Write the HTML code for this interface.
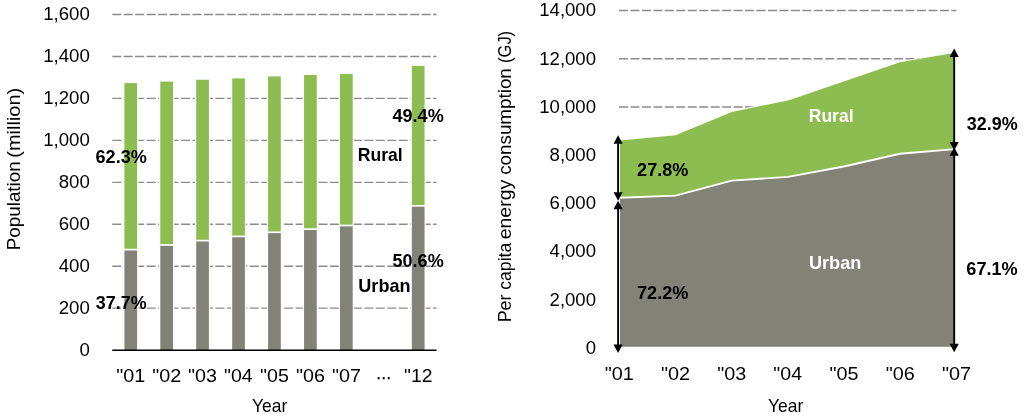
<!DOCTYPE html>
<html lang="en"><head><meta charset="utf-8"><title>Urban and rural population and energy consumption</title>
<style>html,body{margin:0;padding:0;background:#fff}body{width:1024px;height:416px;overflow:hidden}svg{display:block}text{font-family:"Liberation Sans",sans-serif;fill:#000}.b{font-weight:bold}.w{fill:#fff}.g{stroke:#8b8b8b;stroke-width:1.35;stroke-dasharray:9 2.46;fill:none}.ar{stroke:#000;stroke-width:1.9;fill:none}</style></head><body>
<svg width="1024" height="416" viewBox="0 0 1024 416">
<rect width="1024" height="416" fill="#fff"/>
<g id="left-chart">
<line class="g" x1="112.25" y1="308.15" x2="436.5" y2="308.15"/>
<line class="g" x1="112.25" y1="266.20" x2="436.5" y2="266.20"/>
<line class="g" x1="112.25" y1="224.25" x2="436.5" y2="224.25"/>
<line class="g" x1="112.25" y1="182.30" x2="436.5" y2="182.30"/>
<line class="g" x1="112.25" y1="140.35" x2="436.5" y2="140.35"/>
<line class="g" x1="112.25" y1="98.40" x2="436.5" y2="98.40"/>
<line class="g" x1="112.25" y1="56.45" x2="436.5" y2="56.45"/>
<line class="g" x1="112.25" y1="14.50" x2="436.5" y2="14.50"/>
<rect x="123.15" y="82.10" width="15.20" height="268.00" fill="#fff"/>
<rect x="124.40" y="83.10" width="12.70" height="165.65" fill="#8DBC50"/>
<rect x="124.40" y="250.45" width="12.70" height="99.65" fill="#838277"/>
<rect x="159.05" y="80.60" width="15.20" height="269.50" fill="#fff"/>
<rect x="160.30" y="81.60" width="12.70" height="162.55" fill="#8DBC50"/>
<rect x="160.30" y="245.85" width="12.70" height="104.25" fill="#838277"/>
<rect x="194.95" y="78.75" width="15.20" height="271.35" fill="#fff"/>
<rect x="196.20" y="79.75" width="12.70" height="160.00" fill="#8DBC50"/>
<rect x="196.20" y="241.45" width="12.70" height="108.65" fill="#838277"/>
<rect x="230.95" y="77.40" width="15.20" height="272.70" fill="#fff"/>
<rect x="232.20" y="78.40" width="12.70" height="157.15" fill="#8DBC50"/>
<rect x="232.20" y="237.25" width="12.70" height="112.85" fill="#838277"/>
<rect x="266.85" y="75.40" width="15.20" height="274.70" fill="#fff"/>
<rect x="268.10" y="76.40" width="12.70" height="155.00" fill="#8DBC50"/>
<rect x="268.10" y="233.10" width="12.70" height="117.00" fill="#838277"/>
<rect x="302.80" y="74.00" width="15.20" height="276.10" fill="#fff"/>
<rect x="304.05" y="75.00" width="12.70" height="153.25" fill="#8DBC50"/>
<rect x="304.05" y="229.95" width="12.70" height="120.15" fill="#838277"/>
<rect x="338.75" y="72.90" width="15.20" height="277.20" fill="#fff"/>
<rect x="340.00" y="73.90" width="12.70" height="150.75" fill="#8DBC50"/>
<rect x="340.00" y="226.35" width="12.70" height="123.75" fill="#838277"/>
<rect x="410.60" y="64.90" width="15.20" height="285.20" fill="#fff"/>
<rect x="411.85" y="65.90" width="12.70" height="139.05" fill="#8DBC50"/>
<rect x="411.85" y="206.65" width="12.70" height="143.45" fill="#838277"/>
<line x1="112.25" y1="350.25" x2="436.5" y2="350.25" stroke="#000" stroke-width="1.35"/>
<text x="79.46" y="355.85" font-size="18.0" textLength="10.37" lengthAdjust="spacingAndGlyphs">0</text>
<text x="58.71" y="313.90" font-size="18.0" textLength="31.11" lengthAdjust="spacingAndGlyphs">200</text>
<text x="58.71" y="271.95" font-size="18.0" textLength="31.11" lengthAdjust="spacingAndGlyphs">400</text>
<text x="58.71" y="230.00" font-size="18.0" textLength="31.11" lengthAdjust="spacingAndGlyphs">600</text>
<text x="58.71" y="188.05" font-size="18.0" textLength="31.11" lengthAdjust="spacingAndGlyphs">800</text>
<text x="43.18" y="146.10" font-size="18.0" textLength="46.65" lengthAdjust="spacingAndGlyphs">1,000</text>
<text x="43.18" y="104.15" font-size="18.0" textLength="46.65" lengthAdjust="spacingAndGlyphs">1,200</text>
<text x="43.18" y="62.20" font-size="18.0" textLength="46.65" lengthAdjust="spacingAndGlyphs">1,400</text>
<text x="43.18" y="20.25" font-size="18.0" textLength="46.65" lengthAdjust="spacingAndGlyphs">1,600</text>
<text x="375.8" y="378.9" font-size="15.9" stroke="#000" stroke-width="0.35">…</text>
</g>
<g id="right-chart">
<line class="g" x1="619.0" y1="299.96" x2="956.25" y2="299.96"/>
<line class="g" x1="619.0" y1="251.72" x2="956.25" y2="251.72"/>
<line class="g" x1="619.0" y1="203.48" x2="956.25" y2="203.48"/>
<line class="g" x1="619.0" y1="155.24" x2="956.25" y2="155.24"/>
<line class="g" x1="619.0" y1="107.00" x2="956.25" y2="107.00"/>
<line class="g" x1="619.0" y1="58.76" x2="956.25" y2="58.76"/>
<line class="g" x1="619.0" y1="10.52" x2="956.25" y2="10.52"/>
<polygon points="618.60,139.60 675.60,134.25 731.70,110.90 788.10,99.40 843.80,80.40 900.00,61.25 957.40,51.80 957.40,348.25 618.60,348.25" fill="#fff"/>
<polygon points="620.00,140.60 675.60,135.25 731.70,111.90 788.10,100.40 843.80,81.40 900.00,62.25 955.00,52.80 955.00,149.20 900.00,153.75 843.80,166.50 788.10,176.90 731.70,180.60 675.60,195.60 620.00,197.75" fill="#8DBC50"/>
<polygon points="620.00,197.75 675.60,195.60 731.70,180.60 788.10,176.90 843.80,166.50 900.00,153.75 955.00,149.20 955.00,346.75 620.00,346.75" fill="#838277"/>
<polyline points="620.00,197.75 675.60,195.60 731.70,180.60 788.10,176.90 843.80,166.50 900.00,153.75 955.00,149.20" fill="none" stroke="#fff" stroke-width="1.8"/>
<line class="ar" x1="618.1" y1="143.25" x2="618.1" y2="192.75"/>
<polygon points="618.10,135.25 613.55,143.75 622.65,143.75"/>
<polygon points="618.10,200.75 613.55,192.25 622.65,192.25"/>
<line class="ar" x1="618.1" y1="208.75" x2="618.1" y2="345.10"/>
<polygon points="618.10,200.75 613.55,209.25 622.65,209.25"/>
<polygon points="618.10,353.10 613.55,344.60 622.65,344.60"/>
<line class="ar" x1="954.2" y1="56.50" x2="954.2" y2="142.60"/>
<polygon points="954.20,48.50 949.65,57.00 958.75,57.00"/>
<polygon points="954.20,150.60 949.65,142.10 958.75,142.10"/>
<line class="ar" x1="954.2" y1="155.30" x2="954.2" y2="344.20"/>
<polygon points="954.20,147.30 949.65,155.80 958.75,155.80"/>
<polygon points="954.20,352.20 949.65,343.70 958.75,343.70"/>
<text x="585.70" y="353.95" font-size="18.0" textLength="10.33" lengthAdjust="spacingAndGlyphs">0</text>
<text x="549.57" y="305.71" font-size="18.0" textLength="46.46" lengthAdjust="spacingAndGlyphs">2,000</text>
<text x="549.57" y="257.47" font-size="18.0" textLength="46.46" lengthAdjust="spacingAndGlyphs">4,000</text>
<text x="549.57" y="209.23" font-size="18.0" textLength="46.46" lengthAdjust="spacingAndGlyphs">6,000</text>
<text x="549.57" y="160.99" font-size="18.0" textLength="46.46" lengthAdjust="spacingAndGlyphs">8,000</text>
<text x="539.24" y="112.75" font-size="18.0" textLength="56.79" lengthAdjust="spacingAndGlyphs">10,000</text>
<text x="539.24" y="64.51" font-size="18.0" textLength="56.79" lengthAdjust="spacingAndGlyphs">12,000</text>
<text x="539.24" y="16.27" font-size="18.0" textLength="56.79" lengthAdjust="spacingAndGlyphs">14,000</text>
</g>
<g id="labels">
<text x="95.59" y="162.75" class="b" font-size="17.7" textLength="51.14" lengthAdjust="spacingAndGlyphs">62.3%</text>
<text x="95.84" y="308.50" class="b" font-size="17.7" textLength="50.73" lengthAdjust="spacingAndGlyphs">37.7%</text>
<text x="392.48" y="121.50" class="b" font-size="17.7" textLength="51.25" lengthAdjust="spacingAndGlyphs">49.4%</text>
<text x="392.54" y="266.90" class="b" font-size="17.7" textLength="51.18" lengthAdjust="spacingAndGlyphs">50.6%</text>
<text x="357.82" y="160.60" class="b" font-size="18.5" textLength="44.92" lengthAdjust="spacingAndGlyphs">Rural</text>
<text x="358.31" y="291.50" class="b" font-size="18.5" textLength="52.21" lengthAdjust="spacingAndGlyphs">Urban</text>
<text x="637.12" y="175.60" class="b" font-size="17.7" textLength="51.25" lengthAdjust="spacingAndGlyphs">27.8%</text>
<text x="636.97" y="299.00" class="b" font-size="17.7" textLength="51.41" lengthAdjust="spacingAndGlyphs">72.2%</text>
<text x="966.84" y="129.75" class="b" font-size="17.7" textLength="50.89" lengthAdjust="spacingAndGlyphs">32.9%</text>
<text x="966.34" y="275.00" class="b" font-size="17.7" textLength="51.39" lengthAdjust="spacingAndGlyphs">67.1%</text>
<text x="808.83" y="121.50" class="b w" font-size="18.5" textLength="44.66" lengthAdjust="spacingAndGlyphs">Rural</text>
<text x="808.91" y="269.40" class="b w" font-size="18.5" textLength="52.47" lengthAdjust="spacingAndGlyphs">Urban</text>
<text x="252.02" y="411.60" font-size="18.5" textLength="35.27" lengthAdjust="spacingAndGlyphs">Year</text>
<text x="768.02" y="411.60" font-size="18.5" textLength="35.17" lengthAdjust="spacingAndGlyphs">Year</text>
<text x="116.31" y="382.25" font-size="18.0" textLength="29.00" lengthAdjust="spacingAndGlyphs">&quot;01</text>
<text x="152.21" y="382.25" font-size="18.0" textLength="29.04" lengthAdjust="spacingAndGlyphs">&quot;02</text>
<text x="188.11" y="382.25" font-size="18.0" textLength="28.90" lengthAdjust="spacingAndGlyphs">&quot;03</text>
<text x="224.12" y="382.25" font-size="18.0" textLength="28.60" lengthAdjust="spacingAndGlyphs">&quot;04</text>
<text x="260.01" y="382.25" font-size="18.0" textLength="28.86" lengthAdjust="spacingAndGlyphs">&quot;05</text>
<text x="295.96" y="382.25" font-size="18.0" textLength="28.90" lengthAdjust="spacingAndGlyphs">&quot;06</text>
<text x="331.91" y="382.25" font-size="18.0" textLength="29.04" lengthAdjust="spacingAndGlyphs">&quot;07</text>
<text x="404.08" y="382.25" font-size="18.0" textLength="28.39" lengthAdjust="spacingAndGlyphs">&quot;12</text>
<text x="604.76" y="380.00" font-size="18.0" textLength="29.11" lengthAdjust="spacingAndGlyphs">&quot;01</text>
<text x="660.96" y="380.00" font-size="18.0" textLength="29.14" lengthAdjust="spacingAndGlyphs">&quot;02</text>
<text x="717.16" y="380.00" font-size="18.0" textLength="29.01" lengthAdjust="spacingAndGlyphs">&quot;03</text>
<text x="773.37" y="380.00" font-size="18.0" textLength="28.70" lengthAdjust="spacingAndGlyphs">&quot;04</text>
<text x="829.56" y="380.00" font-size="18.0" textLength="28.97" lengthAdjust="spacingAndGlyphs">&quot;05</text>
<text x="885.76" y="380.00" font-size="18.0" textLength="29.01" lengthAdjust="spacingAndGlyphs">&quot;06</text>
<text x="941.96" y="380.00" font-size="18.0" textLength="29.14" lengthAdjust="spacingAndGlyphs">&quot;07</text>
<text transform="translate(19.70,248.75) rotate(-90)" y="0" font-size="18.5"><tspan x="-1.55" textLength="89.02" lengthAdjust="spacingAndGlyphs">Population</tspan> <tspan x="91.01" textLength="69.98" lengthAdjust="spacingAndGlyphs">(million)</tspan></text>
<text transform="translate(510.80,320.90) rotate(-90)" y="0" font-size="18.5"><tspan x="-1.47" textLength="27.92" lengthAdjust="spacingAndGlyphs">Per</tspan> <tspan x="31.15" textLength="47.00" lengthAdjust="spacingAndGlyphs">capita</tspan> <tspan x="81.57" textLength="59.62" lengthAdjust="spacingAndGlyphs">energy</tspan> <tspan x="146.10" textLength="106.62" lengthAdjust="spacingAndGlyphs">consumption</tspan> <tspan x="257.98" textLength="32.04" lengthAdjust="spacingAndGlyphs">(GJ)</tspan></text>
</g>
</svg></body></html>
